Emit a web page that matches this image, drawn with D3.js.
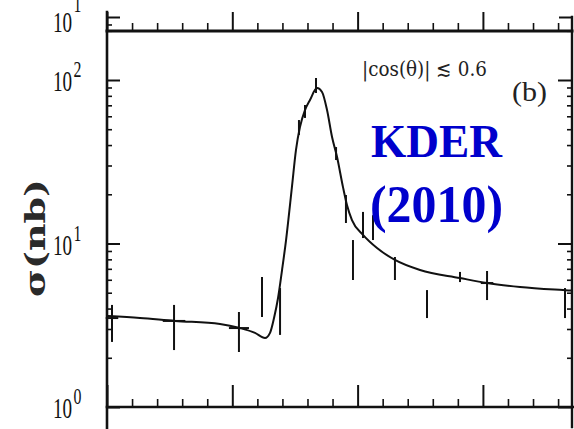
<!DOCTYPE html>
<html>
<head>
<meta charset="utf-8">
<script src="https://cdn.jsdelivr.net/npm/d3@7"></script>
<style>
  html, body { margin: 0; padding: 0; background: #fff; }
  svg { display: block; }
</style>
</head>
<body>
<svg id="chart" width="574" height="429"></svg>
<script>
// Fitted cross-section curve: energy (arbitrary units) and sigma (nb)
const curveX = [0.008, 0.263, 0.543, 0.902, 1.061, 1.181, 1.261, 1.301, 1.333, 1.365, 1.397, 1.429,
                1.476, 1.508, 1.540, 1.580, 1.620, 1.676, 1.716, 1.756, 1.796, 1.836, 1.883, 1.915,
                1.955, 2.043, 2.155, 2.298, 2.498, 2.817, 3.033, 3.296, 3.639, 3.71];
const curveY = [3.60, 3.50, 3.36, 3.22, 3.04, 2.84, 2.64, 2.84, 3.50, 4.64, 6.88, 10.5,
                22.2, 37.3, 51.6, 65.5, 75.5, 89.3, 84.5, 65.5, 44.8, 33.8, 22.2, 17.2,
                13.9, 11.3, 9.39, 7.93, 6.88, 6.15, 5.73, 5.42, 5.19, 5.15];

// Measured points: centre, lower and upper error limits, horizontal half-width
const pointX    = [0.040, 0.535, 1.053, 1.237, 1.381, 1.532, 1.580, 1.668, 1.828, 1.907, 1.963, 2.043, 2.123, 2.298, 2.554, 2.817, 3.033, 3.655];
const pointY    = [3.50,  3.36,  3.04,  4.71,  3.81,  51.0,  64.6,  91.9,  35.8,  16.3,  7.93,  12.97, 12.4,  7.09,  4.27,  6.24,  5.73,  5.19];
const pointLo   = [2.50,  2.23,  2.17,  3.55,  2.76,  46.1,  58.6,  83.3,  32.4,  13.35, 5.98,  10.8,  10.5,  5.98,  3.50,  5.81,  4.51,  3.50];
const pointHi   = [4.21,  4.21,  3.81,  6.24,  5.34,  56.9,  70.3,  102.9, 38.9,  19.8,  10.5,  15.6,  14.9,  8.27,  5.19,  6.70,  6.79,  5.34];
const pointXErr = [0.05,  0.09,  0.08,  0,     0,     0,     0,     0,     0,     0,     0,     0,     0,     0,     0,     0,     0.05,  0];

// Axis ticks
const xMajorTicks = [0, 1, 2, 3];
const xMinorTicks = [0.2, 0.4, 0.6, 0.8, 1.2, 1.4, 1.6, 1.8, 2.2, 2.4, 2.6, 2.8, 3.2, 3.4, 3.6];
const yMajorTicks = [1, 10, 100];
const yMinorTicks = [2, 3, 4, 5, 6, 7, 8, 9, 20, 30, 40, 50, 60, 70, 80, 90, 200];
const yTickExponents = ["0", "1", "2"];
// Upper panel (only its lowest decade is in view)
const upperMajorTicks = [10];
const upperMinorTicks = [9];
const upperTickExponents = ["1"];

const svg = d3.select("#chart");
const ink = "#111";

const x = d3.scaleLinear().domain([0, 3.711]).range([107, 572]);
const y = d3.scaleLog().domain([1, 100]).range([407, 80]);
const yUpper = d3.scaleLog().domain([10, 100]).range([17, 17 - 163.5]);

const plotLeft = 107, plotRight = 572, plotTop = 31, plotBottom = 407;

function styleAxis(g, w) {
  g.select(".domain").remove();
  g.selectAll(".tick line").attr("stroke", ink).attr("stroke-width", w);
  g.selectAll(".tick text").remove();
}

// Bottom axis (ticks pointing up)
svg.append("g").attr("transform", `translate(0,${plotBottom})`)
  .call(d3.axisTop(x).tickValues(xMajorTicks).tickSize(22).tickSizeOuter(0))
  .call(g => styleAxis(g, 2));
svg.append("g").attr("transform", `translate(0,${plotBottom})`)
  .call(d3.axisTop(x).tickValues(xMinorTicks).tickSize(8).tickSizeOuter(0))
  .call(g => styleAxis(g, 1.6));

// Top axis shared with the upper panel (ticks pointing up)
svg.append("g").attr("transform", `translate(0,${plotTop})`)
  .call(d3.axisTop(x).tickValues(xMajorTicks).tickSize(19).tickSizeOuter(0))
  .call(g => styleAxis(g, 2));
svg.append("g").attr("transform", `translate(0,${plotTop})`)
  .call(d3.axisTop(x).tickValues(xMinorTicks).tickSize(8).tickSizeOuter(0))
  .call(g => styleAxis(g, 1.6));

// Left axis (ticks pointing in)
svg.append("g").attr("transform", `translate(${plotLeft},0)`)
  .call(d3.axisRight(y).tickValues(yMajorTicks).tickSize(13).tickSizeOuter(0))
  .call(g => styleAxis(g, 2));
svg.append("g").attr("transform", `translate(${plotLeft},0)`)
  .call(d3.axisRight(y).tickValues(yMinorTicks).tickSize(5).tickSizeOuter(0))
  .call(g => styleAxis(g, 1.6));
svg.append("g").attr("transform", `translate(${plotLeft},0)`)
  .call(d3.axisRight(yUpper).tickValues(upperMajorTicks).tickSize(13).tickSizeOuter(0))
  .call(g => styleAxis(g, 2));
svg.append("g").attr("transform", `translate(${plotLeft},0)`)
  .call(d3.axisRight(yUpper).tickValues(upperMinorTicks).tickSize(5).tickSizeOuter(0))
  .call(g => styleAxis(g, 1.6));

// Right axis (ticks pointing in)
svg.append("g").attr("transform", `translate(${plotRight},0)`)
  .call(d3.axisLeft(y).tickValues(yMajorTicks).tickSize(14).tickSizeOuter(0))
  .call(g => styleAxis(g, 2));
svg.append("g").attr("transform", `translate(${plotRight},0)`)
  .call(d3.axisLeft(y).tickValues(yMinorTicks).tickSize(5).tickSizeOuter(0))
  .call(g => styleAxis(g, 1.6));
svg.append("g").attr("transform", `translate(${plotRight},0)`)
  .call(d3.axisLeft(yUpper).tickValues(upperMajorTicks).tickSize(13).tickSizeOuter(0))
  .call(g => styleAxis(g, 2));

// Frame lines
const frame = svg.append("g").attr("stroke", ink).attr("stroke-linecap", "square");
frame.append("line").attr("x1", plotLeft).attr("x2", plotLeft).attr("y1", 12).attr("y2", 429).attr("stroke-width", 2.6);
frame.append("line").attr("x1", plotRight).attr("x2", plotRight).attr("y1", 17).attr("y2", 427).attr("stroke-width", 2.4);
frame.append("line").attr("x1", plotLeft).attr("x2", plotRight).attr("y1", plotTop).attr("y2", plotTop).attr("stroke-width", 3);
frame.append("line").attr("x1", plotLeft).attr("x2", 574).attr("y1", plotBottom).attr("y2", plotBottom).attr("stroke-width", 2.6);

// Tick labels 10^n, drawn narrow like the typeset originals
const labelFont = "'Liberation Serif', 'Times New Roman', serif";
function decadeLabel(yPos, exp, baseOff, supRise) {
  const t = svg.append("text")
    .attr("transform", `translate(53,${yPos + baseOff}) scale(0.66,1)`)
    .attr("font-family", labelFont).attr("fill", ink);
  t.append("tspan").attr("font-size", 29).text("10");
  t.append("tspan").attr("font-size", 24).attr("dx", 2).attr("dy", -supRise).text(exp);
}
yMajorTicks.forEach((v, i) => decadeLabel(y(v), yTickExponents[i], 11, 14));
upperMajorTicks.forEach((v, i) => decadeLabel(yUpper(v), upperTickExponents[i], 15, 20));

// Y axis title
svg.append("text")
  .attr("transform", "translate(45,238) rotate(-90)")
  .attr("text-anchor", "middle")
  .attr("font-family", "'DejaVu Serif', serif").attr("font-weight", "bold")
  .attr("font-size", 28).attr("fill", "#2a2a2a")
  .attr("textLength", 118).attr("lengthAdjust", "spacingAndGlyphs")
  .text("σ(nb)");

// Fitted curve
const line = d3.line().x((d, i) => x(curveX[i])).y(d => y(d)).curve(d3.curveMonotoneX);
svg.append("path").datum(curveY).attr("d", line)
  .attr("fill", "none").attr("stroke", ink).attr("stroke-width", 2).attr("stroke-linejoin", "round");

// Data points with error bars
const pts = svg.append("g").attr("stroke", ink);
pointX.forEach((px, i) => {
  pts.append("line").attr("x1", x(px)).attr("x2", x(px))
    .attr("y1", y(pointLo[i])).attr("y2", y(pointHi[i])).attr("stroke-width", 2);
  if (pointXErr[i] > 0) {
    pts.append("line").attr("x1", x(px - pointXErr[i])).attr("x2", x(px + pointXErr[i]))
      .attr("y1", y(pointY[i])).attr("y2", y(pointY[i])).attr("stroke-width", 2);
  }
});

// Panel annotations
svg.append("text").attr("x", 362).attr("y", 76)
  .attr("font-family", "'DejaVu Serif', serif").attr("font-size", 21).attr("fill", "#222")
  .attr("textLength", 125).attr("lengthAdjust", "spacingAndGlyphs")
  .text("|cos(θ)| ≲ 0.6");
svg.append("text").attr("x", 512).attr("y", 101)
  .attr("font-family", labelFont).attr("font-size", 28).attr("fill", "#222")
  .attr("textLength", 35).attr("lengthAdjust", "spacingAndGlyphs")
  .text("(b)");

// Source tag
const tag = svg.append("g").attr("font-family", labelFont).attr("font-weight", "bold")
  .attr("fill", "#0000cc");
tag.append("text").attr("x", 371).attr("y", 157).attr("font-size", 46)
  .attr("textLength", 131).attr("lengthAdjust", "spacingAndGlyphs").text("KDER");
tag.append("text").attr("x", 370).attr("y", 222).attr("font-size", 52)
  .attr("textLength", 133).attr("lengthAdjust", "spacingAndGlyphs").text("(2010)");
</script>
</body>
</html>
